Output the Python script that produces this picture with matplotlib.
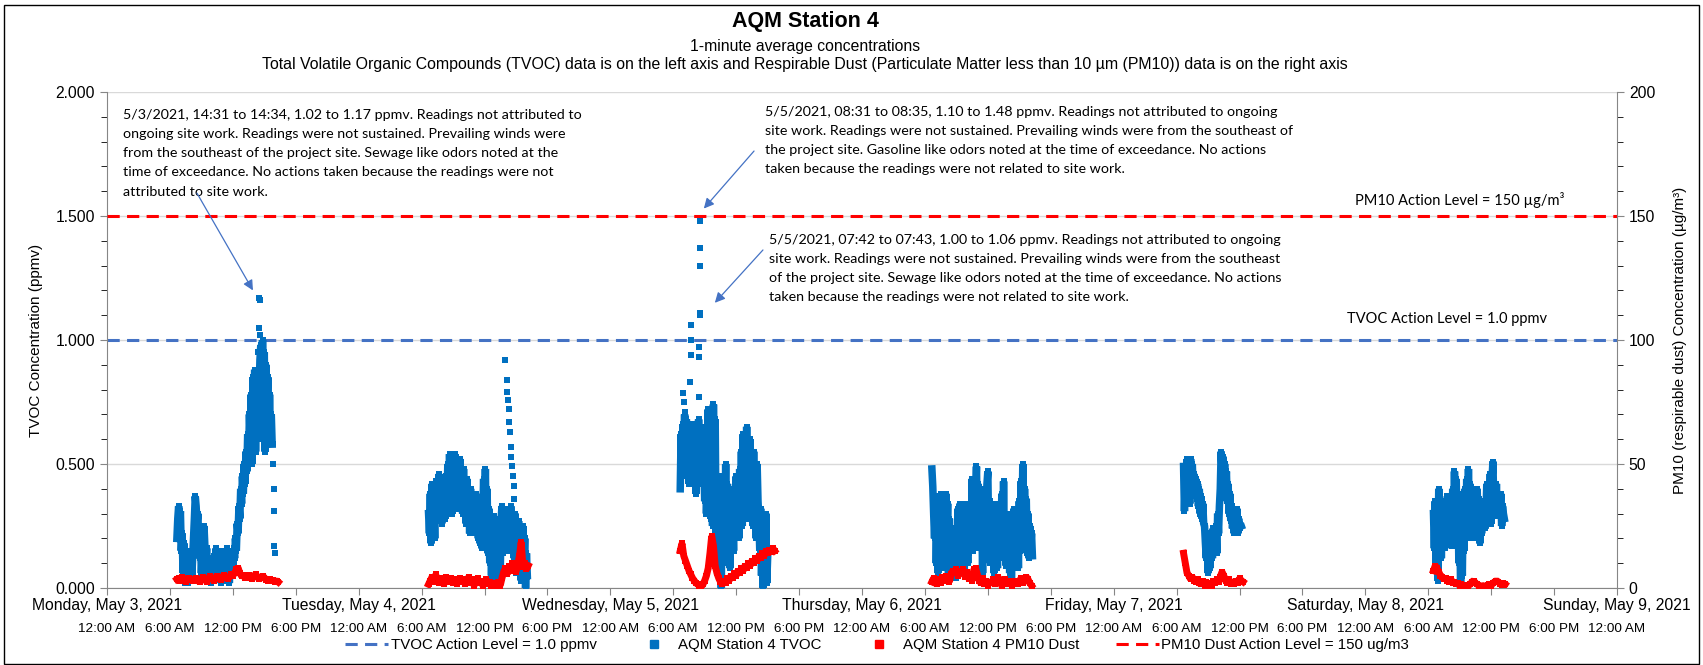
import numpy as np
import pandas as pd
import matplotlib
matplotlib.use("Agg")
import matplotlib.pyplot as plt
import matplotlib.dates as mdates
from matplotlib.ticker import MultipleLocator, FuncFormatter
from matplotlib.lines import Line2D
from matplotlib.patches import Rectangle

plt.rcParams['font.family'] = ['Liberation Sans', 'DejaVu Sans']

# ---- text ----
title = "AQM Station 4"
subtitle1 = "1-minute average concentrations"
subtitle2 = ("Total Volatile Organic Compounds (TVOC) data is on the left axis and Respirable Dust "
             "(Particulate Matter less than 10 \u00b5m (PM10)) data is on the right axis")
day_labels = ["Monday, May 3, 2021", "Tuesday, May 4, 2021", "Wednesday, May 5, 2021",
              "Thursday, May 6, 2021", "Friday, May 7, 2021", "Saturday, May 8, 2021",
              "Sunday, May 9, 2021"]

tvoc_level = 1.0
pm_level = 150

# ---- TVOC (ppmv), 5 minute samples ----
tvoc_starts = ["2021-05-03 06:40", "2021-05-04 06:40", "2021-05-05 06:40",
               "2021-05-06 06:40", "2021-05-07 06:40", "2021-05-08 06:30"]
tvoc_may3 = [0.20, 0.28, 0.33, 0.24, 0.31, 0.15, 0.22, 0.06, 0.18, 0.02, 0.12, 0.05,
             0.15, 0.02, 0.10, 0.05, 0.14, 0.04, 0.12, 0.20, 0.28, 0.37, 0.33, 0.26,
             0.30, 0.18, 0.12, 0.20, 0.06, 0.14, 0.22, 0.25, 0.17, 0.10, 0.16, 0.05,
             0.12, 0.03, 0.09, 0.02, 0.11, 0.05, 0.13, 0.03, 0.10, 0.16, 0.07, 0.14,
             0.04, 0.12, 0.02, 0.09, 0.15, 0.06, 0.12, 0.03, 0.10, 0.16, 0.07, 0.14,
             0.02, 0.10, 0.05, 0.13, 0.08, 0.16, 0.12, 0.20, 0.15, 0.26, 0.22, 0.33,
             0.28, 0.40, 0.34, 0.45, 0.38, 0.50, 0.42, 0.55, 0.47, 0.62, 0.52, 0.70,
             0.58, 0.78, 0.50, 0.85, 0.62, 0.88, 0.55, 0.80, 0.70, 0.86, 0.78, 0.92,
             0.98, 0.60, 1.00, 0.72, 0.95, 0.55, 0.90, 0.68, 0.85, 0.58, 0.78, 0.62,
             0.70, 0.58]
tvoc_may4 = [0.30, 0.22, 0.38, 0.18, 0.42, 0.26, 0.35, 0.20, 0.43, 0.30, 0.40, 0.28,
             0.46, 0.30, 0.42, 0.26, 0.44, 0.34, 0.40, 0.28, 0.45, 0.32, 0.50, 0.35,
             0.54, 0.38, 0.48, 0.30, 0.52, 0.36, 0.54, 0.42, 0.49, 0.32, 0.46, 0.38,
             0.52, 0.40, 0.45, 0.30, 0.48, 0.34, 0.42, 0.26, 0.44, 0.30, 0.38, 0.22,
             0.40, 0.24, 0.36, 0.28, 0.34, 0.22, 0.38, 0.25, 0.32, 0.20, 0.30, 0.18,
             0.34, 0.16, 0.30, 0.44, 0.26, 0.48, 0.20, 0.40, 0.14, 0.32, 0.10, 0.28,
             0.05, 0.24, 0.12, 0.29, 0.08, 0.22, 0.03, 0.26, 0.10, 0.20, 0.06, 0.28,
             0.33, 0.14, 0.30, 0.20, 0.32, 0.18, 0.30, 0.15, 0.28, 0.22, 0.33, 0.25,
             0.20, 0.28, 0.12, 0.30, 0.06, 0.24, 0.15, 0.27, 0.08, 0.22, 0.03, 0.18,
             0.25, 0.10, 0.20, 0.00, 0.14, 0.05]
tvoc_may5 = [0.40, 0.62, 0.48, 0.66, 0.55, 0.70, 0.45, 0.68, 0.52, 0.60, 0.42, 0.58,
             0.50, 0.66, 0.48, 0.60, 0.42, 0.55, 0.38, 0.62, 0.45, 0.68, 0.50, 0.60,
             0.42, 0.65, 0.45, 0.50, 0.35, 0.58, 0.30, 0.45, 0.72, 0.38, 0.62, 0.28,
             0.52, 0.25, 0.74, 0.40, 0.68, 0.22, 0.45, 0.15, 0.38, 0.07, 0.30, 0.00,
             0.45, 0.12, 0.35, 0.20, 0.50, 0.10, 0.42, 0.25, 0.33, 0.08, 0.40, 0.18,
             0.30, 0.15, 0.38, 0.22, 0.45, 0.28, 0.35, 0.20, 0.48, 0.30, 0.55, 0.25,
             0.62, 0.35, 0.58, 0.28, 0.65, 0.40, 0.52, 0.30, 0.60, 0.35, 0.48, 0.25,
             0.55, 0.30, 0.45, 0.20, 0.50, 0.35, 0.28, 0.15, 0.32, 0.05, 0.22, 0.00,
             0.25, 0.10, 0.30, 0.02, 0.12]
tvoc_may6 = [0.48, 0.41, 0.30, 0.20, 0.37, 0.10, 0.28, 0.06, 0.33, 0.15, 0.38, 0.22,
             0.35, 0.12, 0.30, 0.08, 0.38, 0.18, 0.34, 0.06, 0.28, 0.14, 0.24, 0.05,
             0.20, 0.08, 0.24, 0.04, 0.18, 0.10, 0.32, 0.15, 0.34, 0.08, 0.28, 0.12,
             0.30, 0.06, 0.34, 0.18, 0.26, 0.10, 0.32, 0.14, 0.28, 0.20, 0.44, 0.15,
             0.44, 0.20, 0.38, 0.49, 0.25, 0.42, 0.16, 0.38, 0.22, 0.30, 0.06, 0.40,
             0.18, 0.36, 0.28, 0.42, 0.47, 0.20, 0.35, 0.10, 0.30, 0.15, 0.26, 0.06,
             0.34, 0.14, 0.22, 0.08, 0.30, 0.18, 0.28, 0.20, 0.38, 0.12, 0.43, 0.16,
             0.26, 0.09, 0.30, 0.14, 0.22, 0.06, 0.28, 0.03, 0.20, 0.10, 0.32, 0.15,
             0.32, 0.12, 0.28, 0.08, 0.35, 0.15, 0.43, 0.22, 0.50, 0.18, 0.40, 0.25,
             0.36, 0.14, 0.30, 0.12, 0.25, 0.16, 0.22, 0.13]
tvoc_may7 = [0.49, 0.31, 0.45, 0.36, 0.52, 0.40, 0.48, 0.34, 0.52, 0.44, 0.50, 0.40,
             0.46, 0.38, 0.44, 0.36, 0.42, 0.33, 0.40, 0.30, 0.37, 0.28, 0.34, 0.26,
             0.25, 0.18, 0.12, 0.22, 0.06, 0.16, 0.08, 0.14, 0.20, 0.12, 0.24, 0.16,
             0.18, 0.25, 0.14, 0.30, 0.22, 0.33, 0.40, 0.55, 0.48, 0.53, 0.42, 0.50,
             0.38, 0.47, 0.35, 0.42, 0.30, 0.38, 0.27, 0.33, 0.24, 0.30, 0.22, 0.28,
             0.25, 0.32, 0.22, 0.28, 0.24, 0.26, 0.25]
tvoc_may8 = [0.30, 0.16, 0.35, 0.08, 0.28, 0.03, 0.40, 0.18, 0.33, 0.12, 0.30, 0.20,
             0.35, 0.16, 0.32, 0.22, 0.37, 0.18, 0.34, 0.25, 0.30, 0.17, 0.40, 0.28,
             0.47, 0.30, 0.44, 0.22, 0.38, 0.10, 0.30, 0.00, 0.25, 0.05, 0.35, 0.15,
             0.40, 0.22, 0.44, 0.28, 0.48, 0.30, 0.42, 0.20, 0.38, 0.25, 0.35, 0.22,
             0.32, 0.20, 0.40, 0.24, 0.36, 0.18, 0.33, 0.22, 0.30, 0.27, 0.35, 0.24,
             0.30, 0.42, 0.28, 0.40, 0.32, 0.46, 0.26, 0.44, 0.51, 0.34, 0.38, 0.29,
             0.42, 0.30, 0.36, 0.32, 0.29, 0.38, 0.25, 0.33, 0.30, 0.28]

# isolated 1-minute TVOC readings (spikes that stand apart from the main band)
spot_times = ["2021-05-03 14:26", "2021-05-03 14:31", "2021-05-03 14:32", "2021-05-03 14:33",
              "2021-05-03 14:34", "2021-05-03 15:50", "2021-05-03 15:52", "2021-05-03 15:54",
              "2021-05-03 15:56", "2021-05-03 15:58", "2021-05-03 16:00",
              "2021-05-04 14:00", "2021-05-04 14:06", "2021-05-04 14:10", "2021-05-04 14:14",
              "2021-05-04 14:18", "2021-05-04 14:22", "2021-05-04 14:26", "2021-05-04 14:30",
              "2021-05-04 14:34", "2021-05-04 14:38", "2021-05-04 14:42", "2021-05-04 14:46",
              "2021-05-04 14:50",
              "2021-05-05 06:55", "2021-05-05 07:00", "2021-05-05 07:05", "2021-05-05 07:36",
              "2021-05-05 07:40", "2021-05-05 07:42", "2021-05-05 07:43", "2021-05-05 08:28",
              "2021-05-05 08:29", "2021-05-05 08:30", "2021-05-05 08:31", "2021-05-05 08:32",
              "2021-05-05 08:33", "2021-05-05 08:34", "2021-05-05 08:35"]
spot_vals = [0.95, 1.05, 1.17, 1.16, 1.02, 0.58, 0.50, 0.40, 0.31, 0.17, 0.14,
             0.92, 0.84, 0.79, 0.76, 0.72, 0.67, 0.63, 0.57, 0.53, 0.49, 0.45, 0.41, 0.36,
             0.785, 0.75, 0.71, 0.83, 0.94, 1.06, 1.00, 0.97, 0.93, 0.77, 1.11, 1.30,
             1.48, 1.37, 1.10]

# ---- PM10 dust (ug/m3), 10 minute samples ----
pm_starts = ["2021-05-03 06:40", "2021-05-04 06:40", "2021-05-05 06:40",
             "2021-05-06 06:40", "2021-05-07 06:40", "2021-05-08 06:30"]
pm_may3 = [3.5, 4.0, 3.0, 4.5, 3.8, 2.5, 3.2, 4.0, 3.5, 2.8, 3.6, 4.2, 3.0, 2.4, 3.8,
           4.5, 3.2, 2.6, 3.5, 4.8, 4.0, 3.0, 3.6, 5.0, 4.2, 3.4, 4.6, 5.2, 4.0, 3.6,
           4.4, 5.5, 5.0, 6.0, 7.5, 8.2, 6.0, 4.8, 5.2, 4.0, 4.6, 5.4, 4.2, 3.8, 4.8,
           5.6, 4.4, 3.6, 4.0, 5.0, 4.2, 3.4, 3.0, 3.6, 2.8, 3.2, 2.6, 3.0, 2.4]
pm_may4 = [1.5, 3.0, 4.5, 2.5, 5.5, 3.5, 2.0, 4.0, 3.0, 1.5, 4.5, 3.5, 2.5, 4.0, 2.0,
           3.5, 1.5, 3.0, 4.0, 2.5, 3.5, 1.5, 3.0, 4.5, 2.0, 3.5, 1.0, 2.5, 4.0, 2.0,
           3.0, 1.0, 2.5, 3.5, 1.5, 2.5, 1.0, 2.0, 0.5, 1.5, 2.5, 1.0, 4.0, 6.5, 8.0,
           5.5, 9.0, 7.0, 10.0, 8.0, 6.5, 9.5, 13.0, 18.5, 8.5, 10.0, 7.5, 9.0]
pm_may5 = [15, 18, 13, 11, 9, 7, 5.5, 4, 3, 2, 1.5, 1, 0.5, 1.5, 3, 5, 8, 14, 21, 17,
           9, 6, 4, 2.5, 1.5, 3, 2, 4, 3, 5, 4, 6, 5, 7, 6, 8, 7, 9, 8, 10, 9, 11, 10,
           12, 11, 13, 12, 14, 13, 15, 14, 15.5, 14.5, 16, 15]
pm_may6 = [2.5, 4.0, 3.0, 1.5, 3.5, 2.0, 4.5, 3.0, 5.0, 3.5, 2.5, 5.5,
           7.0, 6.5, 7.5, 5.0, 7.0, 6.0, 7.5, 4.5, 6.5, 3.5, 5.0, 3.0,
           7.5, 8.0, 5.5, 3.0, 2.0, 4.0, 1.5, 3.0, 1.0, 2.5, 2.0, 3.5,
           1.5, 3.0, 4.5, 2.0, 1.0, 2.5, 3.5, 1.5, 2.0, 3.0, 1.0, 2.5,
           3.0, 1.5, 2.5, 4.0, 2.0, 3.0, 4.5, 3.5, 2.0, 1.0]
pm_may7 = [14, 10, 6, 5, 3.5, 4.5, 3, 2.5, 3.5, 2, 1.5, 3, 1.0, 2.5, 0.5, 2, 1, 3,
           2, 3.5, 2.5, 4.5, 6.5, 5, 3, 2, 3.5, 1.5, 2.5, 1.5, 3, 2, 4, 3, 2.5]
pm_may8 = [7, 9, 8, 6.5, 5, 4.5, 3.5, 4, 3, 2.5, 3.5, 2, 2.5, 1.5, 2, 1, 1.5, 0.8,
           1.2, 0.5, 1.0, 1.5, 2.5, 3.0, 2.0, 1.5, 1.0, 0.5, 1.0, 0.8, 0.5, 1.2, 1.5,
           1.0, 2.0, 2.5, 3.0, 2.5, 1.8, 1.2, 2.0, 1.5]

tvoc_days = [tvoc_may3, tvoc_may4, tvoc_may5, tvoc_may6, tvoc_may7, tvoc_may8]
pm_days = [pm_may3, pm_may4, pm_may5, pm_may6, pm_may7, pm_may8]

# ---- notes on the chart ----
note1 = ("5/3/2021, 14:31 to 14:34, 1.02 to 1.17 ppmv. Readings not attributed to\n"
         "ongoing site work. Readings were not sustained. Prevailing winds were\n"
         "from the southeast of the project site. Sewage like odors noted at the\n"
         "time of exceedance. No actions taken because the readings were not\n"
         "attributed to site work.")
note2 = ("5/5/2021, 08:31 to 08:35, 1.10 to 1.48 ppmv. Readings not attributed to ongoing\n"
         "site work. Readings were not sustained. Prevailing winds were from the southeast of\n"
         "the project site. Gasoline like odors noted at the time of exceedance. No actions\n"
         "taken because the readings were not related to site work.")
note3 = ("5/5/2021, 07:42 to 07:43, 1.00 to 1.06 ppmv. Readings not attributed to ongoing\n"
         "site work. Readings were not sustained. Prevailing winds were from the southeast\n"
         "of the project site. Sewage like odors noted at the time of exceedance. No actions\n"
         "taken because the readings were not related to site work.")

BLUE = "#0070C0"
RED = "#FF0000"
LBLUE = "#4472C4"
AXC = "#868686"
note_font = ['Lato', 'DejaVu Sans']

W, H = 1703, 665
fig = plt.figure(figsize=(W / 100, H / 100), dpi=100)
ax = fig.add_axes([107 / W, 77 / H, 1510 / W, 496 / H])
ax2 = ax.twinx()

# data: one track per day, minute readings overlap into solid bands
for s, v in zip(tvoc_starts, tvoc_days):
    t = pd.date_range(s, periods=len(v), freq="5min")
    ax.plot(t, v, '-', lw=5.4, color=BLUE, marker='s', ms=4.8, mew=0,
            solid_joinstyle='bevel', zorder=3)
ax.plot(pd.to_datetime(spot_times), spot_vals, linestyle='none', marker='s', ms=4.8,
        mew=0, color=BLUE, zorder=3)
for s, v in zip(pm_starts, pm_days):
    t = pd.date_range(s, periods=len(v), freq="10min")
    ax2.plot(t, v, '-', lw=5.0, color=RED, marker='s', ms=4.8, mew=0,
             solid_joinstyle='bevel', zorder=3)
ax.axhline(tvoc_level, color=LBLUE, lw=2.2, dashes=(4, 2.4), zorder=2)
ax2.axhline(pm_level, color=RED, lw=2.2, dashes=(4, 2.4), zorder=2)

# axes
ax.set_xlim(pd.Timestamp("2021-05-03"), pd.Timestamp("2021-05-09"))
ax.set_ylim(0, 2)
ax2.set_ylim(0, 200)

ax.yaxis.set_major_locator(MultipleLocator(0.5))
ax.yaxis.set_minor_locator(MultipleLocator(0.1))
ax.yaxis.set_major_formatter(FuncFormatter(lambda v, p: f"{v:.3f}"))
ax2.yaxis.set_major_locator(MultipleLocator(50))
ax2.yaxis.set_minor_locator(MultipleLocator(10))


def hour_fmt(x, pos):
    d = mdates.num2date(x)
    h = d.hour % 12 or 12
    return f"{h}:00 {'AM' if d.hour < 12 else 'PM'}"


ax.xaxis.set_major_locator(mdates.HourLocator(byhour=[0, 6, 12, 18]))
ax.xaxis.set_major_formatter(FuncFormatter(hour_fmt))
ax.xaxis.set_minor_locator(mdates.DayLocator())

ax.grid(axis='y', which='major', color='#D9D9D9', lw=1, zorder=0)
ax.grid(axis='x', which='minor', color='#A6A6A6', lw=1, zorder=0)
ax.set_axisbelow(True)

for a in (ax, ax2):
    a.spines['top'].set_visible(False)
    a.tick_params(colors=AXC, labelcolor='black')
ax.spines['right'].set_visible(False)
ax2.spines['left'].set_visible(False)
ax2.spines['bottom'].set_visible(False)
ax.spines['left'].set_color(AXC)
ax.spines['bottom'].set_color(AXC)
ax2.spines['right'].set_color(AXC)

ax.tick_params(axis='x', which='major', length=5, pad=20, labelsize=9.7)
ax.tick_params(axis='x', which='minor', length=0)
ax.tick_params(axis='y', which='major', length=5, labelsize=11.3)
ax.tick_params(axis='y', which='minor', length=4)
ax2.tick_params(axis='y', which='major', length=5, labelsize=11.3)
ax2.tick_params(axis='y', which='minor', length=4)

ax.set_ylabel("TVOC Concentration (ppmv)", fontsize=11, labelpad=9)
ax2.set_ylabel("PM10 (respirable dust) Concentration (\u00b5g/m\u00b3)", fontsize=11, labelpad=13)

days = pd.date_range("2021-05-03", periods=len(day_labels), freq="D")
for d, lab in zip(days, day_labels):
    ax.text(d, -0.036, lab, transform=ax.get_xaxis_transform(), ha='center', va='center',
            fontsize=11.3)

# titles (centred on the same point as in the original title box)
tx = 805 / W
fig.text(tx, 1 - 21 / H, title, ha='center', va='center', fontsize=15.5, fontweight='bold')
fig.text(tx, 1 - 46 / H, subtitle1, ha='center', va='center', fontsize=11.3)
fig.text(tx, 1 - 64 / H, subtitle2, ha='center', va='center', fontsize=11.4)

# notes
box = dict(boxstyle='square,pad=0.5', fc='white', ec='none')
note_kw = dict(transform=ax2.transAxes, ha='left', va='top', fontsize=10.3,
               family=note_font, linespacing=1.72, bbox=box, zorder=5)
ax2.text(0.0106, 0.966, note1, **note_kw)
ax2.text(0.4358, 0.972, note2, **note_kw)
ax2.text(0.4385, 0.714, note3, **note_kw)
lab_box = dict(boxstyle='square,pad=0.3', fc='white', ec='none')
ax2.text(0.896, 0.782, "PM10 Action Level = 150 \u00b5g/m\u00b3", transform=ax2.transAxes,
         ha='center', va='center', fontsize=10.5, family=note_font, bbox=lab_box, zorder=5)
ax2.text(0.8874, 0.542, "TVOC Action Level = 1.0 ppmv", transform=ax2.transAxes,
         ha='center', va='center', fontsize=10.5, family=note_font, bbox=lab_box, zorder=5)

arrow = dict(arrowstyle='-|>', color=LBLUE, lw=0.9, mutation_scale=15, shrinkA=0, shrinkB=0)
arrows = [((pd.Timestamp("2021-05-03 13:55"), 1.20), (0.0596, 0.796)),
          ((pd.Timestamp("2021-05-05 08:55"), 1.53), (0.4285, 0.881)),
          ((pd.Timestamp("2021-05-05 09:58"), 1.15), (0.4344, 0.6815))]
for tip, tail in arrows:
    ax2.annotate('', xy=(mdates.date2num(tip[0]), tip[1]), xycoords=ax.transData,
                 xytext=tail, textcoords='axes fraction', arrowprops=arrow, zorder=6)

# legend
handles = [Line2D([], [], color=LBLUE, lw=2.2, dashes=(4, 2.4)),
           Line2D([], [], color=BLUE, marker='s', ms=6, linestyle='none'),
           Line2D([], [], color=RED, marker='s', ms=6, linestyle='none'),
           Line2D([], [], color=RED, lw=2.2, dashes=(4, 2.4))]
labels = ["TVOC Action Level = 1.0 ppmv", "AQM Station 4 TVOC",
          "AQM Station 4 PM10 Dust", "PM10 Dust Action Level = 150 ug/m3"]
fig.legend(handles, labels, loc='center', bbox_to_anchor=(877 / W, 1 - 645 / H), ncol=4,
           frameon=False, fontsize=10.8, handlelength=2.9, handletextpad=0.15,
           columnspacing=2.4)

fig.patches.append(Rectangle((4 / W, 1 / H), 1695 / W, 659 / H, transform=fig.transFigure,
                             fill=False, ec='black', lw=1))

fig.savefig("out.png", dpi=100)
